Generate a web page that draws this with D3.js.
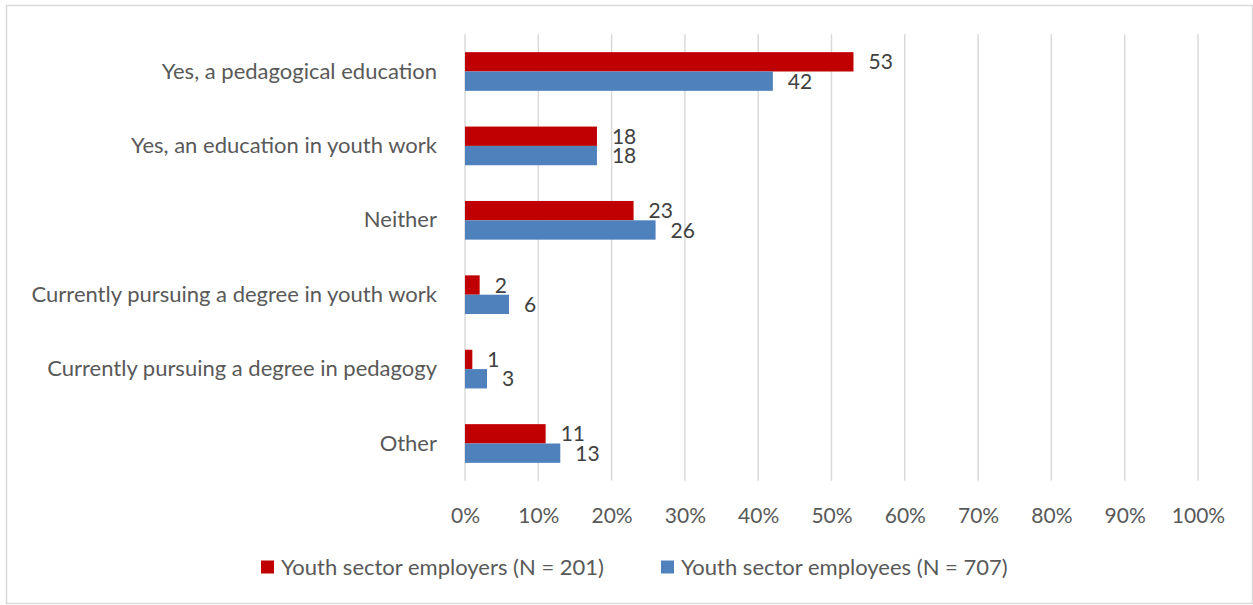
<!DOCTYPE html>
<html>
<head>
<meta charset="utf-8">
<script src="https://cdn.jsdelivr.net/npm/d3@7"></script>
<style>
  body { margin: 0; background: #fff; }
  svg { font-family: Lato, "Open Sans", sans-serif; }
</style>
</head>
<body>
<div id="container"></div>
<script>
const categories = [
  "Yes, a pedagogical education",
  "Yes, an education in youth work",
  "Neither",
  "Currently pursuing a degree in youth work",
  "Currently pursuing a degree in pedagogy",
  "Other"
];
const employers = [53, 18, 23, 2, 1, 11];
const employees = [42, 18, 26, 6, 3, 13];
const seriesNames = ["Youth sector employers (N = 201)", "Youth sector employees (N = 707)"];
const seriesColors = ["#C00000", "#4F81BD"];
const xTicks = [0, 10, 20, 30, 40, 50, 60, 70, 80, 90, 100];

const w = 1253, h = 605;
const plot = {left: 465, right: 1198, top: 34.3, bottom: 480.7};

const chart = d3.select('#container')
                .append('svg')
                .attr('width', w)
                .attr('height', h);

// outer border
chart.append('rect')
     .attr('x', 6.5).attr('y', 5.5)
     .attr('width', 1246).attr('height', 598)
     .attr('fill', 'none')
     .attr('stroke', '#d9d9d9')
     .attr('stroke-width', 1.5);

// scales
const x = d3.scaleLinear()
            .domain([0, 100])
            .range([plot.left, plot.right]);

const y = d3.scaleBand()
            .domain(categories)
            .range([plot.top, plot.bottom])
            .paddingInner(0.48)
            .paddingOuter(0.24);

const sub = d3.scaleBand()
              .domain([0, 1])
              .range([0, y.bandwidth()]);

// gridlines
chart.append('g')
     .selectAll('line')
     .data(xTicks).enter()
     .append('line')
     .attr('x1', d => x(d)).attr('x2', d => x(d))
     .attr('y1', plot.top).attr('y2', plot.bottom)
     .attr('stroke', '#d9d9d9')
     .attr('stroke-width', 1.5);

// x axis labels
const xAxis = d3.axisBottom(x)
                .tickValues(xTicks)
                .tickFormat(d => d + '%')
                .tickSize(0)
                .tickPadding(27);
const xg = chart.append('g')
                .attr('transform', `translate(0, ${plot.bottom})`)
                .call(xAxis);
xg.select('.domain').remove();
xg.selectAll('text')
  .attr('fill', '#595959')
  .style('font-size', '21px')
  .style('font-family', 'Lato, sans-serif');

// y axis labels
const yAxis = d3.axisLeft(y).tickSize(0).tickPadding(28);
const yg = chart.append('g')
                .attr('transform', `translate(${plot.left}, 0)`)
                .call(yAxis);
yg.select('.domain').remove();
yg.selectAll('text')
  .attr('fill', '#595959')
  .style('font-size', '22px')
  .style('font-family', 'Lato, sans-serif');

// bars
const series = [employers, employees];
series.forEach((vals, s) => {
  const g = chart.append('g');
  g.selectAll('rect')
   .data(vals).enter()
   .append('rect')
   .attr('x', x(0))
   .attr('y', (d, i) => y(categories[i]) + sub(s))
   .attr('width', d => x(d) - x(0))
   .attr('height', sub.bandwidth())
   .attr('fill', seriesColors[s]);

  g.selectAll('text')
   .data(vals).enter()
   .append('text')
   .attr('x', d => x(d) + 15)
   .attr('y', (d, i) => y(categories[i]) + sub(s) + sub.bandwidth() / 2)
   .attr('dy', '0.36em')
   .attr('fill', '#404040')
   .style('font-size', '21px')
   .text(d => d);
});

// legend
const legendItems = [
  {name: seriesNames[0], color: seriesColors[0], x: 261},
  {name: seriesNames[1], color: seriesColors[1], x: 661}
];
const legend = chart.append('g').attr('transform', 'translate(0, 567)');
legendItems.forEach(it => {
  legend.append('rect')
        .attr('x', it.x).attr('y', -6.5)
        .attr('width', 13).attr('height', 13)
        .attr('fill', it.color);
  legend.append('text')
        .attr('x', it.x + 20)
        .attr('y', 0)
        .attr('dy', '0.36em')
        .attr('fill', '#595959')
        .style('font-size', '22px')
        .text(it.name);
});
</script>
</body>
</html>
